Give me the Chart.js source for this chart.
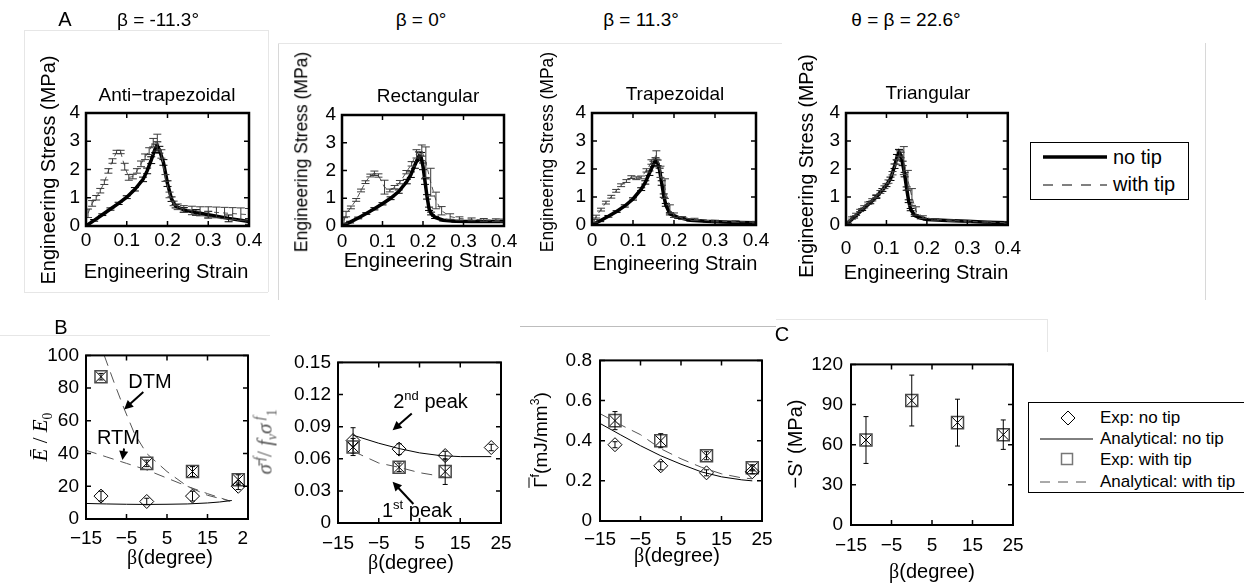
<!DOCTYPE html>
<html>
<head>
<meta charset="utf-8">
<script src="https://cdn.jsdelivr.net/npm/chart.js@4.4.1/dist/chart.umd.min.js"></script>
<style>
  html, body { margin: 0; padding: 0; background: #fff; }
  #fig { position: relative; width: 1244px; height: 584px; overflow: hidden;
         font-family: 'Liberation Sans', Arial, sans-serif; color: #000; }
  #fig canvas { position: absolute; }
  .t { position: absolute; white-space: nowrap; line-height: 1; transform: translate(-50%, -50%); }
  .l { position: absolute; white-space: nowrap; line-height: 1; transform: translateY(-50%); }
  .v { position: absolute; white-space: nowrap; line-height: 1; transform: translate(-50%, -50%) rotate(-90deg); }
  .rule { position: absolute; background: #e6e6e6; }
  .box { position: absolute; border: 1.5px solid #000; box-sizing: border-box; }
  .serif { font-family: 'Liberation Serif', 'DejaVu Serif', serif; }
  sup, sub { font-size: 65%; line-height: 0; }
  svg { position: absolute; overflow: visible; }
</style>
</head>
<body>
<div id="fig">
  <!-- faint borders left over from the pasted sub-figures -->
  <div class="rule" style="left:24px;top:30px;width:244px;height:1px"></div>
  <div class="rule" style="left:24px;top:30px;width:1px;height:262px"></div>
  <div class="rule" style="left:268px;top:30px;width:1px;height:262px"></div>
  <div class="rule" style="left:24px;top:292px;width:244px;height:1px"></div>
  <div class="rule" style="left:278px;top:43px;width:1px;height:257px;background:#d8d8d8"></div>
  <div class="rule" style="left:278px;top:43px;width:504px;height:1px"></div>
  <div class="rule" style="left:1205px;top:43px;width:1px;height:257px;background:#d8d8d8"></div>
  <div class="rule" style="left:0px;top:335px;width:270px;height:1px"></div>
  <div class="rule" style="left:520px;top:326px;width:256px;height:1px;background:#bdbdbd"></div>
  <div class="rule" style="left:776px;top:319px;width:271px;height:1px"></div>
  <div class="rule" style="left:1047px;top:319px;width:1px;height:33px"></div>

  <canvas id="p1"></canvas>
  <canvas id="p2"></canvas>
  <canvas id="p3"></canvas>
  <canvas id="p4"></canvas>
  <div style="position:absolute;left:0;top:0;width:249px;height:584px;overflow:hidden"><canvas id="b1"></canvas></div>
  <canvas id="b2"></canvas>
  <canvas id="b3"></canvas>
  <canvas id="c1"></canvas>

  <!-- headers -->
  <div class="t" style="left:65px;top:19px;font-size:20px">A</div>
  <div class="t" style="left:158px;top:19px;font-size:19px">β = -11.3°</div>
  <div class="t" style="left:421px;top:19px;font-size:19px">β = 0°</div>
  <div class="t" style="left:641px;top:19px;font-size:19px">β = 11.3°</div>
  <div class="t" style="left:906px;top:19px;font-size:19px">θ = β = 22.6°</div>
  <div class="t" style="left:61px;top:327px;font-size:20px">B</div>
  <div class="t" style="left:782px;top:334px;font-size:20px">C</div>

  <!-- top row titles and axis titles -->
  <div class="t" style="left:167px;top:94px;font-size:19px">Anti−trapezoidal</div>
  <div class="t" style="left:428px;top:95px;font-size:19px">Rectangular</div>
  <div class="t" style="left:675px;top:93px;font-size:19px">Trapezoidal</div>
  <div class="t" style="left:928px;top:92px;font-size:19px">Triangular</div>
  <div class="v" style="left:48px;top:170px;font-size:20px">Engineering Stress (MPa)</div>
  <div class="v" style="left:302px;top:152px;font-size:17.5px">Engineering Stress (MPa)</div>
  <div class="v" style="left:548px;top:152px;font-size:17.5px">Engineering Stress (MPa)</div>
  <div class="v" style="left:807px;top:166px;font-size:19.5px">Engineering Stress (MPa)</div>
  <div class="t" style="left:166px;top:271px;font-size:20px">Engineering Strain</div>
  <div class="t" style="left:428px;top:260px;font-size:20.5px">Engineering Strain</div>
  <div class="t" style="left:675px;top:263px;font-size:20px">Engineering Strain</div>
  <div class="t" style="left:926px;top:272px;font-size:20px">Engineering Strain</div>

  <!-- bottom row axis titles -->
  <div class="v serif" style="left:40px;top:437px;font-size:21px"><i>Ē</i> / <i>E</i><sub>0</sub></div>
  <div class="v serif" style="left:265px;top:442px;font-size:21px;color:#555"><i>σ̄</i><sup> <i>f</i></sup>/ <i>f</i><sub><i>v</i></sub><i>σ</i><sup> <i>f</i></sup><sub>1</sub></div>
  <div class="v" style="left:540px;top:440px;font-size:19px"><span style="text-decoration:overline">Γ</span><sup>f</sup>(mJ/mm<sup>3</sup>)</div>
  <div class="v" style="left:795px;top:444px;font-size:20px">−S' (MPa)</div>
  <div class="t" style="left:170px;top:557px;font-size:20px"><span class="serif">β</span>(degree)</div>
  <div class="t" style="left:411px;top:562px;font-size:20px"><span class="serif">β</span>(degree)</div>
  <div class="t" style="left:677px;top:555px;font-size:20px"><span class="serif">β</span>(degree)</div>
  <div class="t" style="left:932px;top:571px;font-size:20px"><span class="serif">β</span>(degree)</div>

  <!-- legend, top row -->
  <div class="box" style="left:1030px;top:142px;width:159px;height:58px;background:#fff"></div>
  <svg style="left:1043px;top:157px" width="64" height="1"><line x1="0" y1="0" x2="64" y2="0" stroke="#000" stroke-width="3.5"/></svg>
  <div class="l" style="left:1113px;top:157px;font-size:20px">no tip</div>
  <svg style="left:1043px;top:184.5px" width="64" height="1"><line x1="0" y1="0" x2="64" y2="0" stroke="#000" stroke-width="1" stroke-dasharray="10 9"/></svg>
  <div class="l" style="left:1113px;top:184px;font-size:20px">with tip</div>

  <!-- legend, bottom row -->
  <div class="box" style="left:1028px;top:402px;width:222px;height:91px;background:#fff"></div>
  <svg style="left:1067.5px;top:417.5px" width="1" height="1"><polygon points="0,-7 7,0 0,7 -7,0" fill="none" stroke="#000" stroke-width="1"/></svg>
  <div class="l" style="left:1100px;top:417px;font-size:17px">Exp: no tip</div>
  <svg style="left:1040px;top:438.5px" width="53" height="1"><line x1="0" y1="0" x2="53" y2="0" stroke="#000" stroke-width="1"/></svg>
  <div class="l" style="left:1100px;top:438px;font-size:17px">Analytical: no tip</div>
  <svg style="left:1067px;top:459px" width="1" height="1"><rect x="-5.5" y="-5.5" width="11" height="11" fill="none" stroke="#777" stroke-width="1.5"/></svg>
  <div class="l" style="left:1100px;top:459px;font-size:17px">Exp: with tip</div>
  <svg style="left:1040px;top:481.5px" width="53" height="1"><line x1="0" y1="0" x2="53" y2="0" stroke="#555" stroke-width="1" stroke-dasharray="10 8"/></svg>
  <div class="l" style="left:1100px;top:481px;font-size:17px">Analytical: with tip</div>
</div>

<script>
// ---------------- tick values and labels ----------------
const strainTicks = [0, 0.1, 0.2, 0.3, 0.4]
const strainLabels = ["0", "0.1", "0.2", "0.3", "0.4"]
const stressTicks = [0, 1, 2, 3, 4]
const stressLabels = ["0", "1", "2", "3", "4"]
const betaTicks = [-15, -5, 5, 15, 25]
const betaLabels = ["−15", "−5", "5", "15", "25"]
const modTicks = [0, 20, 40, 60, 80, 100]
const modLabels = ["0", "20", "40", "60", "80", "100"]
const peakTicks = [0, 0.03, 0.06, 0.09, 0.12, 0.15]
const peakLabels = ["0", "0.03", "0.06", "0.09", "0.12", "0.15"]
const gammaTicks = [0, 0.2, 0.4, 0.6, 0.8]
const gammaLabels = ["0", "0.2", "0.4", "0.6", "0.8"]
const slopeTicks = [0, 30, 60, 90, 120]
const slopeLabels = ["0", "30", "60", "90", "120"]

// ---------------- A: stress-strain curves ----------------
// anti-trapezoidal, beta = -11.3
const antiStrain = [0, 0.02, 0.04, 0.06, 0.08, 0.10, 0.12, 0.14, 0.15, 0.16, 0.17, 0.175, 0.18, 0.19, 0.20, 0.21, 0.22, 0.24, 0.27, 0.30, 0.35, 0.40]
const antiStress = [0, 0.2, 0.4, 0.6, 0.8, 1.02, 1.3, 1.65, 1.95, 2.33, 2.75, 2.83, 2.7, 2.25, 1.5, 0.95, 0.7, 0.57, 0.48, 0.4, 0.27, 0.16]
const antiErr = [0, 0.03, 0.03, 0.04, 0.04, 0.05, 0.06, 0.08, 0.1, 0.12, 0.15, 0.15, 0.12, 0.1, 0.1, 0.08, 0.06, 0.08, 0.1, 0.12, 0.12, 0.1]
const antiStrainTip = [0.005, 0.015, 0.025, 0.035, 0.045, 0.055, 0.065, 0.075, 0.085, 0.095, 0.105, 0.115, 0.125, 0.135, 0.145, 0.155, 0.165, 0.175, 0.185, 0.195, 0.205, 0.215, 0.225, 0.24, 0.26, 0.28, 0.30, 0.32, 0.34, 0.36, 0.38, 0.40]
const antiStressTip = [0.45, 0.8, 1.0, 1.25, 1.55, 1.95, 2.3, 2.62, 2.62, 2.1, 1.72, 1.75, 1.95, 2.2, 2.45, 2.65, 2.95, 2.95, 2.55, 1.7, 1.1, 0.8, 0.68, 0.6, 0.55, 0.52, 0.5, 0.48, 0.46, 0.44, 0.42, 0.4]
const antiErrTip = [0.15, 0.1, 0.08, 0.08, 0.08, 0.08, 0.08, 0.06, 0.06, 0.12, 0.1, 0.08, 0.08, 0.1, 0.1, 0.12, 0.15, 0.3, 0.15, 0.12, 0.1, 0.08, 0.1, 0.12, 0.15, 0.16, 0.18, 0.19, 0.2, 0.21, 0.22, 0.22]

// rectangular, beta = 0
const rectStrain = [0, 0.02, 0.04, 0.06, 0.08, 0.10, 0.12, 0.14, 0.16, 0.17, 0.18, 0.19, 0.195, 0.20, 0.205, 0.21, 0.215, 0.22, 0.23, 0.25, 0.28, 0.32, 0.36, 0.40]
const rectStress = [0, 0.14, 0.29, 0.45, 0.62, 0.8, 1.0, 1.24, 1.6, 1.85, 2.2, 2.52, 2.5, 2.15, 1.6, 1.05, 0.62, 0.45, 0.31, 0.21, 0.17, 0.16, 0.16, 0.16]
const rectErr = [0, 0.03, 0.03, 0.03, 0.04, 0.04, 0.05, 0.06, 0.08, 0.1, 0.12, 0.15, 0.15, 0.12, 0.1, 0.08, 0.06, 0.05, 0.04, 0.03, 0.03, 0.03, 0.03, 0.03]
const rectStrainTip = [0.005, 0.01, 0.022, 0.035, 0.047, 0.058, 0.07, 0.08, 0.09, 0.105, 0.118, 0.13, 0.143, 0.159, 0.172, 0.184, 0.197, 0.207, 0.219, 0.232, 0.246, 0.267, 0.29, 0.32, 0.35, 0.38, 0.40]
const rectStressTip = [0.2, 0.43, 0.67, 0.94, 1.28, 1.58, 1.82, 1.9, 1.82, 1.4, 1.28, 1.4, 1.58, 1.94, 2.24, 2.6, 2.72, 2.3, 1.58, 0.92, 0.55, 0.34, 0.27, 0.24, 0.22, 0.21, 0.2]
const rectErrTip = [0.1, 0.1, 0.05, 0.05, 0.05, 0.05, 0.05, 0.08, 0.06, 0.25, 0.05, 0.06, 0.06, 0.06, 0.08, 0.15, 0.2, 0.55, 0.5, 0.3, 0.15, 0.1, 0.06, 0.05, 0.05, 0.05, 0.05]

// trapezoidal, beta = 11.3
const trapStrain = [0, 0.02, 0.04, 0.06, 0.08, 0.10, 0.12, 0.13, 0.14, 0.15, 0.155, 0.16, 0.165, 0.17, 0.175, 0.18, 0.19, 0.21, 0.24, 0.28, 0.32, 0.36, 0.40]
const trapStress = [0, 0.15, 0.31, 0.48, 0.68, 0.93, 1.28, 1.52, 1.85, 2.18, 2.3, 2.22, 1.95, 1.5, 1.05, 0.72, 0.4, 0.27, 0.17, 0.13, 0.11, 0.09, 0.08]
const trapErr = [0, 0.03, 0.03, 0.03, 0.04, 0.04, 0.05, 0.06, 0.08, 0.1, 0.1, 0.1, 0.08, 0.08, 0.06, 0.05, 0.04, 0.03, 0.03, 0.02, 0.02, 0.02, 0.02]
const trapStrainTip = [0.005, 0.01, 0.022, 0.034, 0.047, 0.059, 0.071, 0.084, 0.096, 0.108, 0.12, 0.133, 0.145, 0.157, 0.167, 0.178, 0.19, 0.2, 0.22, 0.25, 0.3, 0.35, 0.4]
const trapStressTip = [0.15, 0.3, 0.55, 0.8, 1.01, 1.22, 1.42, 1.57, 1.71, 1.67, 1.7, 1.95, 2.25, 2.5, 1.9, 1.3, 0.57, 0.35, 0.25, 0.2, 0.14, 0.12, 0.1]
const trapErrTip = [0.05, 0.05, 0.05, 0.05, 0.05, 0.05, 0.05, 0.05, 0.05, 0.05, 0.05, 0.06, 0.08, 0.15, 0.2, 0.35, 0.15, 0.08, 0.05, 0.04, 0.03, 0.03, 0.03]

// triangular, theta = beta = 22.6
const triStrain = [0, 0.02, 0.04, 0.06, 0.075, 0.09, 0.10, 0.11, 0.12, 0.126, 0.131, 0.135, 0.14, 0.145, 0.15, 0.155, 0.16, 0.17, 0.185, 0.2, 0.25, 0.3, 0.35, 0.4]
const triStress = [0, 0.28, 0.55, 0.8, 1.0, 1.25, 1.42, 1.65, 2.1, 2.42, 2.6, 2.5, 2.2, 1.8, 1.3, 0.85, 0.55, 0.34, 0.25, 0.2, 0.16, 0.13, 0.1, 0.08]
const triErr = [0, 0.03, 0.03, 0.04, 0.05, 0.05, 0.05, 0.06, 0.08, 0.1, 0.1, 0.1, 0.08, 0.08, 0.06, 0.05, 0.04, 0.03, 0.03, 0.02, 0.02, 0.02, 0.02, 0.02]
const triStrainTip = [0.005, 0.015, 0.025, 0.035, 0.045, 0.055, 0.065, 0.075, 0.085, 0.095, 0.105, 0.115, 0.125, 0.133, 0.143, 0.153, 0.163, 0.173, 0.19, 0.22, 0.26, 0.3, 0.35, 0.4]
const triStressTip = [0.1, 0.25, 0.38, 0.52, 0.65, 0.78, 0.9, 1.03, 1.18, 1.35, 1.55, 1.85, 2.25, 2.55, 2.3, 1.6, 1.0, 0.5, 0.28, 0.2, 0.16, 0.13, 0.1, 0.08]
const triErrTip = [0.04, 0.04, 0.04, 0.04, 0.04, 0.04, 0.04, 0.05, 0.05, 0.05, 0.06, 0.06, 0.08, 0.1, 0.5, 0.35, 0.3, 0.15, 0.05, 0.03, 0.03, 0.03, 0.03, 0.03]

// ---------------- B and C: against beta ----------------
const betaExp = [-11.3, 0, 11.3, 22.6]

// normalised modulus
const modExpNoTip = [14, 10.7, 14, 20]
const modErrNoTip = [3, 2, 3, 2]
const modExpTip = [87, 34, 29, 24]
const modErrTip = [2, 2, 3, 3]
const modAnaBeta = [-15, -10, -5, 0, 5, 10, 15, 18, 21]
const modAnaNoTip = [9.5, 9.2, 9.0, 8.9, 9.0, 9.2, 9.8, 10.4, 11.3]
const dtmBeta = [-10.5, -8, -5.6, -3, 0, 5, 10, 15, 20.5]
const dtmValue = [100, 83, 67.5, 52, 40, 29, 20, 14.5, 11]
const rtmBeta = [-15, -10, -5, 0, 5, 10, 15, 20.5]
const rtmValue = [42, 38, 34, 30, 25, 20, 15.5, 11]

// normalised peak stress
const peak2Exp = [0.077, 0.069, 0.063, 0.0705]
const peak2Err = [0.012, 0.005, 0.004, 0.003]
const peak1Beta = [-11.3, 0, 11.3]
const peak1Exp = [0.071, 0.052, 0.048]
const peak1Err = [0.008, 0.004, 0.012]
const peak2AnaBeta = [-11.3, -5, 0, 5, 10, 15, 22.6]
const peak2Ana = [0.082, 0.0745, 0.0695, 0.0655, 0.063, 0.062, 0.062]
const peak1AnaBeta = [-11.3, -5, 0, 5, 11.3]
const peak1Ana = [0.067, 0.056, 0.052, 0.047, 0.043]

// fracture energy
const gammaExpNoTip = [0.38, 0.275, 0.24, 0.245]
const gammaErrNoTip = [0.015, 0.02, 0.015, 0.01]
const gammaExpTip = [0.5, 0.4, 0.325, 0.265]
const gammaErrTip = [0.045, 0.035, 0.02, 0.015]
const gammaAnaBeta = [-15, -10, -5, 0, 5, 10, 15, 20, 22.6]
const gammaAnaNoTip = [0.486, 0.43, 0.375, 0.325, 0.283, 0.245, 0.22, 0.205, 0.2]
const gammaAnaTip = [0.535, 0.48, 0.43, 0.36, 0.31, 0.268, 0.235, 0.215, 0.21]

// softening slope
const slopeExp = [63.5, 93, 76.5, 67.5]
const slopeErr = [17.5, 19, 17.5, 11]

// arrows and labels, in data units
const NOTES = {
  b1: [
    { parts: [{ t: "DTM" }], at: [0.8, 83.7] },
    { from: [-0.85, 77.6], to: [-5.6, 67] },
    { parts: [{ t: "RTM" }], at: [-7.0, 49.2] },
    { from: [-5.6, 43.1], to: [-6.0, 36] },
  ],
  b2: [
    { parts: [{ t: "2" }, { t: "nd", sup: true }, { t: " peak" }], at: [7.7, 0.113] },
    { from: [3.1, 0.1022], to: [-1.6, 0.0866] },
    { parts: [{ t: "1" }, { t: "st", sup: true }, { t: " peak" }], at: [4.4, 0.0105] },
    { from: [3.5, 0.0177], to: [-1.6, 0.0385] },
  ],
}

// ---------------- plugins ----------------
Chart.defaults.font.family = "'Liberation Sans', Arial, sans-serif"
Chart.defaults.font.size = 19
Chart.defaults.color = "#000"

const frame = {
  id: "frame",
  afterDraw(chart, args, opts) {
    const { ctx, chartArea: a, scales: { x, y } } = chart
    ctx.save()
    ctx.strokeStyle = "#000"
    ctx.lineWidth = 1.5
    ctx.beginPath()
    x.ticks.forEach((t) => {
      const p = x.getPixelForValue(t.value)
      ctx.moveTo(p, a.bottom); ctx.lineTo(p, a.bottom - opts.tick)
      ctx.moveTo(p, a.top); ctx.lineTo(p, a.top + opts.tick)
    })
    y.ticks.forEach((t) => {
      const p = y.getPixelForValue(t.value)
      ctx.moveTo(a.left, p); ctx.lineTo(a.left + opts.tick, p)
      ctx.moveTo(a.right, p); ctx.lineTo(a.right - opts.tick, p)
    })
    ctx.stroke()
    ctx.lineWidth = opts.width
    ctx.strokeRect(a.left, a.top, a.right - a.left, a.bottom - a.top)
    ctx.restore()
  },
}

const errorBars = {
  id: "errorBars",
  afterDatasetDraw(chart, args) {
    const ds = chart.data.datasets[args.index]
    if (!ds.errors) return
    const { ctx, chartArea: a } = chart
    const ys = chart.scales.y
    ctx.save()
    ctx.beginPath()
    ctx.rect(a.left, a.top, a.right - a.left, a.bottom - a.top)
    ctx.clip()
    ctx.strokeStyle = ds.errorColor || "#000"
    ctx.lineWidth = 1
    ctx.beginPath()
    args.meta.data.forEach((pt, j) => {
      const e = ds.errors[j]
      if (!e) return
      const v = ds.data[j].y
      const top = ys.getPixelForValue(v + e)
      const bot = ys.getPixelForValue(v - e)
      const c = ds.cap
      ctx.moveTo(pt.x, top); ctx.lineTo(pt.x, bot)
      ctx.moveTo(pt.x - c, top); ctx.lineTo(pt.x + c, top)
      ctx.moveTo(pt.x - c, bot); ctx.lineTo(pt.x + c, bot)
    })
    ctx.stroke()
    ctx.restore()
  },
}

const notes = {
  id: "notes",
  afterDraw(chart) {
    const items = NOTES[chart.canvas.id]
    if (!items) return
    const { ctx, scales: { x, y } } = chart
    const fontFor = (p) => (p.sup ? "13px" : "20px") + " 'Liberation Sans', Arial, sans-serif"
    ctx.save()
    ctx.fillStyle = "#000"
    ctx.strokeStyle = "#000"
    items.forEach((it) => {
      if (it.from) {
        const x1 = x.getPixelForValue(it.from[0]), y1 = y.getPixelForValue(it.from[1])
        const x2 = x.getPixelForValue(it.to[0]), y2 = y.getPixelForValue(it.to[1])
        const ang = Math.atan2(y2 - y1, x2 - x1)
        const h = 9, w = 4.5
        const cos = Math.cos(ang), sin = Math.sin(ang)
        ctx.lineWidth = 2
        ctx.beginPath()
        ctx.moveTo(x1, y1)
        ctx.lineTo(x2 - h * 0.8 * cos, y2 - h * 0.8 * sin)
        ctx.stroke()
        ctx.beginPath()
        ctx.moveTo(x2, y2)
        ctx.lineTo(x2 - h * cos + w * sin, y2 - h * sin - w * cos)
        ctx.lineTo(x2 - h * cos - w * sin, y2 - h * sin + w * cos)
        ctx.closePath()
        ctx.fill()
      } else {
        const px = x.getPixelForValue(it.at[0]), py = y.getPixelForValue(it.at[1])
        let total = 0
        it.parts.forEach((p) => { ctx.font = fontFor(p); total += ctx.measureText(p.t).width })
        let cx = px - total / 2
        ctx.textAlign = "left"
        ctx.textBaseline = "middle"
        it.parts.forEach((p) => {
          ctx.font = fontFor(p)
          ctx.fillText(p.t, cx, p.sup ? py - 6 : py)
          cx += ctx.measureText(p.t).width
        })
      }
    })
    ctx.restore()
  },
}

// ---------------- helpers ----------------
const PAD = { l: 64, r: 24, t: 18, b: 44 }
const pts = (xs, ys) => xs.map((x, i) => ({ x, y: ys[i] }))

function axis(range, ticks, labels, pad, horizontal) {
  return {
    type: "linear",
    min: range[0],
    max: range[1],
    grid: { display: false, drawTicks: false },
    border: { display: false },
    afterBuildTicks: (s) => { s.ticks = ticks.map((v) => ({ value: v })) },
    afterFit: (s) => { if (horizontal) s.height = PAD.b; else s.width = PAD.l },
    ticks: { autoSkip: false, maxRotation: 0, padding: pad, callback: (v, i) => labels[i] },
  }
}

function panel(id, area, xAxis, yAxis, datasets, frameWidth) {
  const cv = document.getElementById(id)
  const W = area[1] - area[0] + PAD.l + PAD.r
  const H = area[3] - area[2] + PAD.t + PAD.b
  cv.width = W
  cv.height = H
  cv.style.width = W + "px"
  cv.style.height = H + "px"
  cv.style.left = area[0] - PAD.l + "px"
  cv.style.top = area[2] - PAD.t + "px"
  return new Chart(cv, {
    type: "scatter",
    data: { datasets },
    options: {
      responsive: false,
      animation: false,
      events: [],
      layout: { padding: { top: PAD.t, right: PAD.r, left: 0, bottom: 0 } },
      plugins: {
        legend: { display: false },
        tooltip: { enabled: false },
        frame: { width: frameWidth, tick: 5 },
      },
      scales: { x: xAxis, y: yAxis },
    },
    plugins: [errorBars, frame, notes],
  })
}

function stressSets(sx, sy, se, tx, ty, te) {
  return [
    { data: pts(tx, ty), errors: te, errorColor: "#3c3c3c", cap: 4, showLine: true,
      borderColor: "#555", borderWidth: 1, borderDash: [5, 4], pointRadius: 0 },
    { data: pts(sx, sy), errors: se, errorColor: "#000", cap: 4, showLine: true,
      borderColor: "#000", borderWidth: 3.5, pointRadius: 0 },
  ]
}

const line = (xs, ys, dashed) => ({
  data: pts(xs, ys), showLine: true, pointRadius: 0, borderWidth: 1,
  borderColor: dashed ? "#555" : "#000", borderDash: dashed ? [11, 7] : [],
})
const diamonds = (xs, ys, err) => ({
  data: pts(xs, ys), errors: err, cap: 2.5, pointStyle: "rectRot", pointRadius: 7,
  pointBackgroundColor: "rgba(0,0,0,0)", pointBorderColor: "#000", pointBorderWidth: 1,
})
const squares = (xs, ys, err) => ({
  data: pts(xs, ys), errors: err, cap: 2.5, pointStyle: "rect", pointRadius: 8.5,
  pointBackgroundColor: "rgba(0,0,0,0)", pointBorderColor: "#4a4a4a", pointBorderWidth: 1.5,
})
const crosses = (xs, ys) => ({
  data: pts(xs, ys), pointStyle: "crossRot", pointRadius: 8,
  pointBorderColor: "#000", pointBorderWidth: 1,
})

// ---------------- top row ----------------
const xStrain = (pad) => axis([0, 0.4], strainTicks, strainLabels, pad, true)
const yStress = () => axis([0, 4], stressTicks, stressLabels, 6, false)

panel("p1", [86, 249, 113, 226], xStrain(3), yStress(),
  stressSets(antiStrain, antiStress, antiErr, antiStrainTip, antiStressTip, antiErrTip), 2.5)
panel("p2", [342, 504, 115, 226], xStrain(4), yStress(),
  stressSets(rectStrain, rectStress, rectErr, rectStrainTip, rectStressTip, rectErrTip), 2.5)
panel("p3", [592, 756, 113, 225], xStrain(4), yStress(),
  stressSets(trapStrain, trapStress, trapErr, trapStrainTip, trapStressTip, trapErrTip), 2.5)
panel("p4", [846, 1009, 113, 225], xStrain(12), yStress(),
  stressSets(triStrain, triStress, triErr, triStrainTip, triStressTip, triErrTip), 2.5)

// ---------------- bottom row ----------------
const xBeta = (pad) => axis([-15, 25], betaTicks, betaLabels, pad, true)

panel("b1", [86, 248, 355, 519], xBeta(8), axis([0, 100], modTicks, modLabels, 7, false), [
  line(modAnaBeta, modAnaNoTip, false),
  line(dtmBeta, dtmValue, true),
  line(rtmBeta, rtmValue, true),
  diamonds(betaExp, modExpNoTip, modErrNoTip),
  squares(betaExp, modExpTip, modErrTip),
  crosses(betaExp, modExpTip),
], 2)

panel("b2", [338, 501, 362, 523], xBeta(9), axis([0, 0.15], peakTicks, peakLabels, 7, false), [
  line(peak2AnaBeta, peak2Ana, false),
  line(peak1AnaBeta, peak1Ana, true),
  squares(peak1Beta, peak1Exp, peak1Err),
  crosses(peak1Beta, peak1Exp),
  diamonds(betaExp, peak2Exp, peak2Err),
], 2)

panel("b3", [600, 762, 359, 521], xBeta(7), axis([0, 0.8], gammaTicks, gammaLabels, 8, false), [
  line(gammaAnaBeta, gammaAnaNoTip, false),
  line(gammaAnaBeta, gammaAnaTip, true),
  diamonds(betaExp, gammaExpNoTip, gammaErrNoTip),
  squares(betaExp, gammaExpTip, gammaErrTip),
  crosses(betaExp, gammaExpTip),
], 2)

panel("c1", [851, 1013, 363, 525], xBeta(9), axis([0, 120], slopeTicks, slopeLabels, 8, false), [
  squares(betaExp, slopeExp, slopeErr),
  crosses(betaExp, slopeExp),
], 2)
</script>
</body>
</html>
